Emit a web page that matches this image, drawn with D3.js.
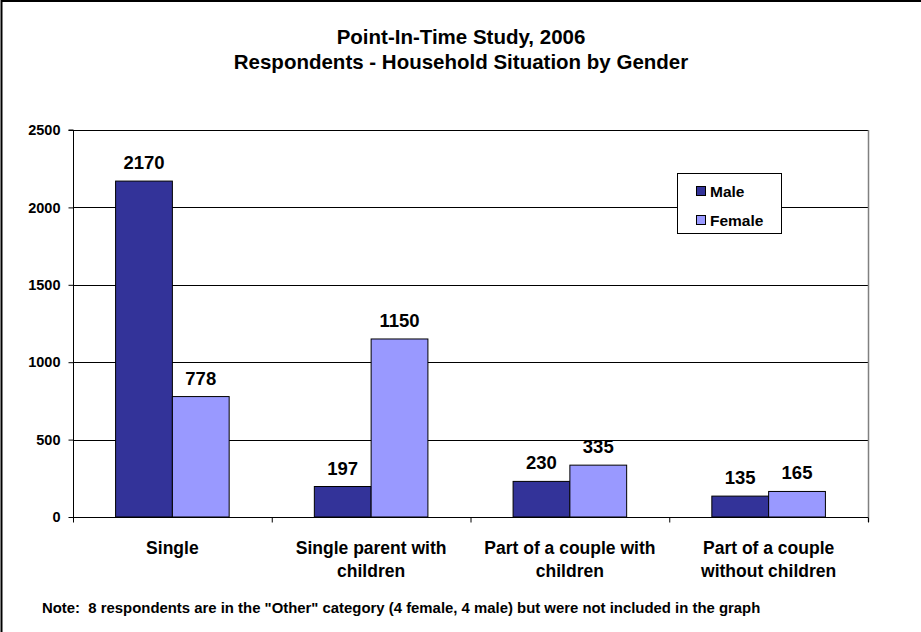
<!DOCTYPE html>
<html><head><meta charset="utf-8">
<script src="https://cdn.jsdelivr.net/npm/d3@7"></script>
<style>
html,body{margin:0;padding:0;background:#fff;}
svg{display:block;font-family:"Liberation Sans",Arial,sans-serif;font-weight:bold;}
</style></head>
<body>
<svg id="chart" width="921" height="632"></svg>
<script>
const categories = [["Single"], ["Single parent with", "children"], ["Part of a couple with", "children"], ["Part of a couple", "without children"]];
const seriesNames = ["Male", "Female"];
const maleValues = [2170, 197, 230, 135];
const femaleValues = [778, 1150, 335, 165];
const yTicks = [0, 500, 1000, 1500, 2000, 2500];
const titleLines = ["Point-In-Time Study, 2006", "Respondents - Household Situation by Gender"];
const noteText = 'Note:  8 respondents are in the "Other" category (4 female, 4 male) but were not included in the graph';
const colors = ["#333399", "#9999FF"];

const svg = d3.select("#chart");
const W = 921, H = 632;
const plot = {left: 73, right: 868, top: 130, bottom: 517};

// outer frame
svg.append("rect").attr("x", 1.5).attr("y", 1).attr("width", W + 10).attr("height", H + 10)
  .attr("fill", "#fff").attr("stroke", "#000").attr("stroke-width", 2);

// title
svg.selectAll("text.title").data(titleLines).join("text")
  .attr("class", "title").attr("x", 461).attr("y", (d, i) => 43.5 + i * 25)
  .attr("text-anchor", "middle").attr("font-size", 20.5).text(d => d);

const catIdx = categories.map((d, i) => i);
const x0 = d3.scaleBand().domain(catIdx).range([plot.left, plot.right]).paddingInner(0).paddingOuter(0);
const barW = x0.bandwidth() / 3.5; // Excel gap width 150%
const y = d3.scaleLinear().domain([0, 2500]).range([plot.bottom, plot.top]);

// gridlines
svg.append("g").selectAll("line").data(yTicks.filter(d => d > 0)).join("line")
  .attr("x1", plot.left).attr("x2", plot.right)
  .attr("y1", d => Math.round(y(d)) + 0.5).attr("y2", d => Math.round(y(d)) + 0.5)
  .attr("stroke", "#000").attr("stroke-width", 1);

// plot right border (gray)
svg.append("line").attr("x1", plot.right + 0.5).attr("x2", plot.right + 0.5)
  .attr("y1", plot.top).attr("y2", plot.bottom + 5).attr("stroke", "#808080").attr("stroke-width", 1.5);

// bars
const data = [];
catIdx.forEach(i => {
  data.push({c: i, s: 0, v: maleValues[i]});
  data.push({c: i, s: 1, v: femaleValues[i]});
});
const bx = d => x0(d.c) + x0.bandwidth() / 2 - barW + d.s * barW;
svg.append("g").selectAll("rect").data(data).join("rect")
  .attr("x", d => bx(d)).attr("width", barW)
  .attr("y", d => y(d.v)).attr("height", d => y(0) - y(d.v))
  .attr("fill", d => colors[d.s]).attr("stroke", "#000").attr("stroke-width", 1);

// data labels
svg.append("g").selectAll("text").data(data).join("text")
  .attr("x", d => bx(d) + barW / 2).attr("y", d => y(d.v) - 12)
  .attr("text-anchor", "middle").attr("font-size", 18.5).text(d => d.v);

// y axis
const yAxis = d3.axisLeft(y).tickValues(yTicks).tickSize(5).tickPadding(8).tickFormat(d3.format("d"));
const gy = svg.append("g").attr("transform", `translate(${plot.left + 0.5},0)`).call(yAxis);
gy.select(".domain").attr("stroke", "#000").attr("d", `M-5,${plot.top}H0V${plot.bottom}`);
gy.selectAll("text").attr("font-size", 14.5).attr("font-weight", "bold").attr("font-family", "Liberation Sans, Arial, sans-serif").attr("fill", "#000");

// x axis
const xEdge = d3.scaleLinear().domain([0, categories.length]).range([plot.left, plot.right]);
const xAxis = d3.axisBottom(xEdge).tickValues(d3.range(categories.length + 1)).tickSize(5).tickFormat("");
const gx = svg.append("g").attr("transform", `translate(0,${plot.bottom + 0.5})`).call(xAxis);
gx.select(".domain").attr("d", `M${plot.left},0H${plot.right}`).attr("stroke", "#000");
gx.selectAll(".tick line").attr("stroke", "#000");

// category labels
const cl = svg.append("g").selectAll("text").data(categories).join("text")
  .attr("text-anchor", "middle").attr("font-size", 17.5);
cl.each(function(d, i) {
  d3.select(this).selectAll("tspan").data(d).join("tspan")
    .attr("x", x0(i) + x0.bandwidth() / 2).attr("y", (t, j) => 554 + j * 23).text(t => t);
});

// legend
const lg = svg.append("g");
lg.append("rect").attr("x", 677.5).attr("y", 173.5).attr("width", 104).attr("height", 60)
  .attr("fill", "#fff").attr("stroke", "#000").attr("stroke-width", 1);
seriesNames.forEach((n, i) => {
  lg.append("rect").attr("x", 696.5).attr("y", 186.5 + i * 29).attr("width", 9).attr("height", 9)
    .attr("fill", colors[i]).attr("stroke", "#000").attr("stroke-width", 1);
  lg.append("text").attr("x", 710).attr("y", 196.5 + i * 29).attr("font-size", 15.5).text(n);
});

// note
svg.append("text").attr("x", 42).attr("y", 613).attr("font-size", 14.9)
  .style("white-space", "pre").text(noteText);
</script>
</body></html>
